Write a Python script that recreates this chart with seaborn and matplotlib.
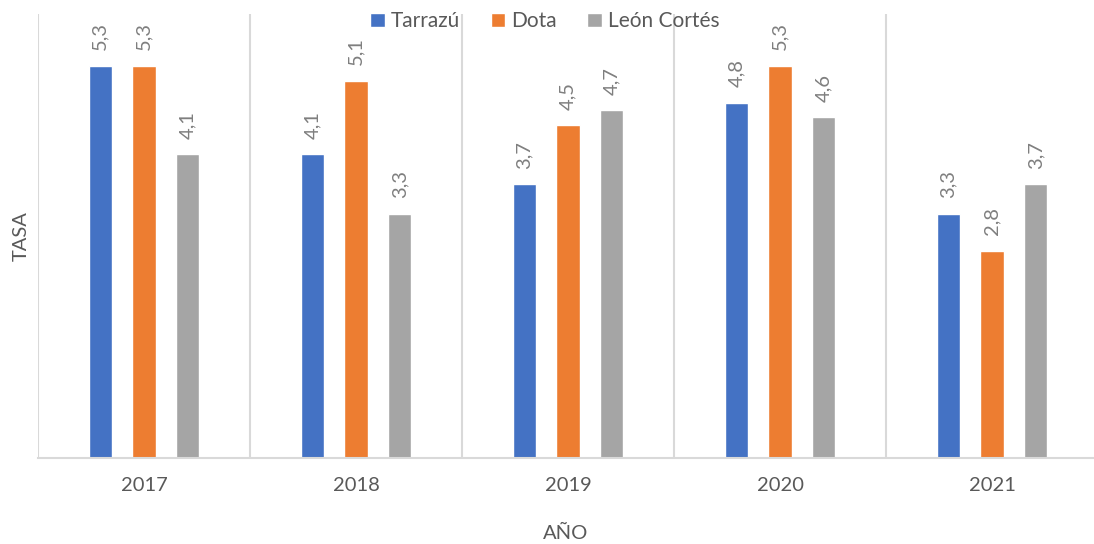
import matplotlib.pyplot as plt
import pandas as pd
import seaborn as sns

# datos
years = ["2017", "2018", "2019", "2020", "2021"]
tarrazu = [5.3, 4.1, 3.7, 4.8, 3.3]
dota = [5.3, 5.1, 4.5, 5.3, 2.8]
leon_cortes = [4.1, 3.3, 4.7, 4.6, 3.7]
cantones = ["Tarrazú", "Dota", "León Cortés"]
colors = ["#4472C4", "#ED7D31", "#A5A5A5"]

df = pd.DataFrame({"AÑO": years, "Tarrazú": tarrazu, "Dota": dota, "León Cortés": leon_cortes})
long = df.melt(id_vars="AÑO", var_name="Cantón", value_name="TASA")

sns.set_theme(style="white")
plt.rcParams["font.family"] = ["Lato", "DejaVu Sans"]

fig = plt.figure(figsize=(10.94, 5.44), dpi=100)
ax = fig.add_axes([38 / 1094, 1 - 457.5 / 544, 1 - 38 / 1094, (457.5 - 14) / 544])

sns.barplot(
    data=long, x="AÑO", y="TASA", hue="Cantón", hue_order=cantones,
    palette=colors, width=0.62, gap=0.47, ax=ax, saturation=1, legend=True,
)

for cont in ax.containers:
    vals = cont.datavalues
    ax.bar_label(
        cont, labels=[f"{v:.1f}".replace(".", ",") for v in vals],
        padding=11, rotation=90, fontsize=14.5, color="#7f7f7f",
    )

ax.set_ylim(0, 6)
ax.set_xlim(-0.5, -0.5 + 1056 / 212)
for x in [-0.5, 0.5, 1.5, 2.5, 3.5]:
    ax.axvline(x, color="#d9d9d9", lw=1.5, zorder=0)

for s in ["left", "right", "top"]:
    ax.spines[s].set_visible(False)
ax.spines["bottom"].set_color("#d9d9d9")
ax.spines["bottom"].set_linewidth(1.5)

ax.set_yticks([])
ax.tick_params(axis="x", length=0, pad=14, labelsize=14.5, labelcolor="#595959")
ax.set_xlabel("AÑO", fontsize=14.5, color="#595959", labelpad=22)
ax.set_ylabel("TASA", fontsize=14.5, color="#595959", labelpad=6)

ax.legend(
    loc="upper center", bbox_to_anchor=(545 / 1094, 1), bbox_transform=fig.transFigure,
    ncol=3, frameon=False, fontsize=15, handlelength=0.7, handleheight=0.7,
    handletextpad=0.3, columnspacing=1.45, borderaxespad=0.15, labelcolor="#595959",
)

fig.savefig("out.png", dpi=100)
